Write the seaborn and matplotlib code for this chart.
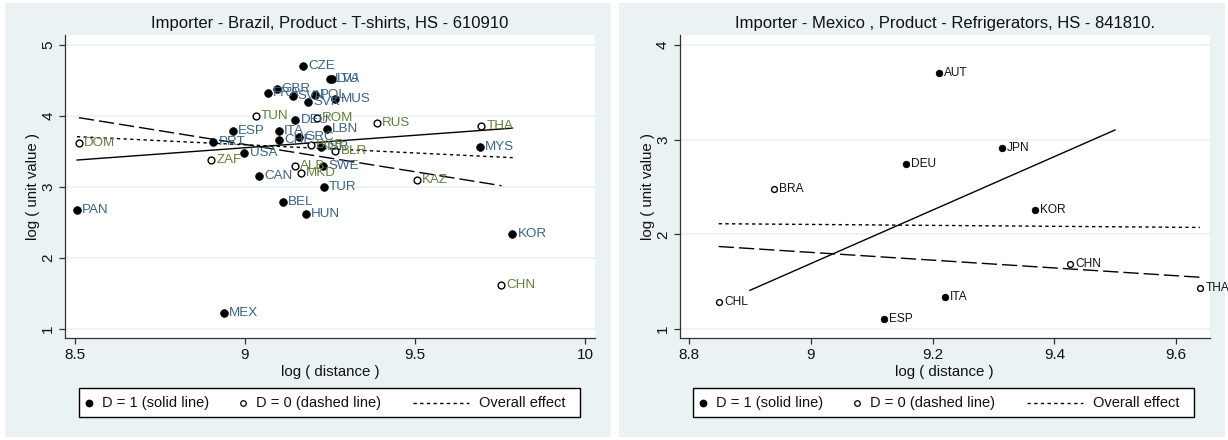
"""
Unit value vs distance scatter, two importers side by side.
"""

import matplotlib
matplotlib.use("Agg")

import matplotlib.pyplot as plt
from matplotlib.lines import Line2D
from matplotlib.patches import Rectangle
import numpy as np
import pandas as pd
import seaborn as sns

# -- data: Brazil / T-shirts -----------------------------------------
BR_NAMES = ["CZE", "LTU", "LVA", "GBR", "FRA", "SVN", "POL", "SVK", "MUS",
            "DEU", "LBN", "ITA", "ESP", "CHE", "GRC", "PRT", "USA", "CAN",
            "BEL", "HUN", "SWE", "TUR", "ISR", "MYS", "KOR", "PAN", "MEX",
            "TUN", "ROM", "RUS", "THA", "KAZ", "CHN", "DOM", "ZAF", "ALB",
            "MKD", "BGR", "BLR"]
BR_DIST = [9.171, 9.250, 9.256, 9.093, 9.068, 9.140, 9.206, 9.185, 9.265,
           9.148, 9.240, 9.099, 8.964, 9.101, 9.159, 8.907, 8.998, 9.042,
           9.111, 9.179, 9.230, 9.232, 9.225, 9.691, 9.786, 8.506, 8.938,
           9.032, 9.211, 9.387, 9.694, 9.506, 9.754, 8.512, 8.900, 9.147,
           9.164, 9.193, 9.265]
BR_UV = [4.704, 4.520, 4.520, 4.376, 4.324, 4.280, 4.296, 4.193, 4.239,
         3.944, 3.817, 3.793, 3.793, 3.662, 3.709, 3.629, 3.475, 3.159,
         2.785, 2.620, 3.296, 2.996, 3.568, 3.568, 2.338, 2.676, 1.230,
         3.996, 3.967, 3.897, 3.859, 3.103, 1.624, 3.615, 3.376, 3.296,
         3.201, 3.592, 3.507]
BR_D = [1] * 27 + [0] * 12

# fitted lines: value at log distance 9, slope, x range
BR_FIT_AT9 = [3.553, 3.600, 3.595]
BR_FIT_SLOPE = [0.351, -0.771, -0.231]
BR_FIT_X0 = [8.506, 8.512, 8.506]
BR_FIT_X1 = [9.787, 9.754, 9.787]

# -- data: Mexico / Refrigerators ------------------------------------
MX_NAMES = ["AUT", "JPN", "DEU", "KOR", "ITA", "ESP", "BRA", "CHN", "THA", "CHL"]
MX_DIST = [9.210, 9.314, 9.156, 9.368, 9.220, 9.120, 8.939, 9.426, 9.639, 8.849]
MX_UV = [3.708, 2.917, 2.742, 2.259, 1.339, 1.110, 2.478, 1.690, 1.429, 1.282]
MX_D = [1, 1, 1, 1, 1, 1, 0, 0, 0, 0]

MX_FIT_AT9 = [1.691, 1.810, 2.105]
MX_FIT_SLOPE = [2.825, -0.411, -0.0495]
MX_FIT_X0 = [8.900, 8.849, 8.849]
MX_FIT_X1 = [9.500, 9.639, 9.639]

LEGEND_LABELS = ["D = 1 (solid line)", "D = 0 (dashed line)", "Overall effect"]

# -- style -----------------------------------------------------------
W, H = 1228, 440
BG = "#eaf2f3"
BLUE = "#3b6488"
GREEN = "#62803a"
AXIS = "#333333"

sns.set_theme(style="white")
plt.rcParams["font.family"] = ["Liberation Sans", "DejaVu Sans"]
plt.rcParams["font.size"] = 10

LINE_STYLES = [
    dict(linestyle="-"),
    dict(linestyle=(0, (11, 3.6))),
    dict(linestyle=(0, (2.4, 2.4))),
]


def fx(x):
    return x / W


def fy(y):
    return 1 - y / H


def draw_panel(fig, left_px, names, dist, uv, dflag, at9, slope, x0, x1,
               title, xlim, ylim, xticks, yticks, colored, lab_size, msize):
    ax = fig.add_axes([fx(left_px), fy(338), 530 / W, 303 / H])
    ax.set_facecolor("white")
    df = pd.DataFrame({"name": names, "x": dist, "y": uv, "D": dflag})

    for yt in yticks:
        ax.axhline(yt, color=BG, linewidth=1.2, zorder=0)

    for i in range(3):
        xr = np.array([x0[i], x1[i]])
        ax.plot(xr, at9[i] + slope[i] * (xr - 9), color="black",
                linewidth=1.0, zorder=2, **LINE_STYLES[i])

    d1 = df[df["D"] == 1]
    d0 = df[df["D"] == 0]
    sns.scatterplot(data=d1, x="x", y="y", color="black", s=msize,
                    edgecolor="black", linewidth=0.6, ax=ax, zorder=3)
    sns.scatterplot(data=d0, x="x", y="y", color="white", s=msize * 0.8,
                    edgecolor="black", linewidth=1.0, ax=ax, zorder=3)

    for _, r in df.iterrows():
        if colored:
            col = BLUE if r["D"] == 1 else GREEN
        else:
            col = "#111111"
        ax.annotate(r["name"], (r["x"], r["y"]), xytext=(3.8, 0),
                    textcoords="offset points", ha="left", va="center",
                    fontsize=lab_size, color=col, zorder=4,
                    annotation_clip=False)

    ax.set_xlim(*xlim)
    ax.set_ylim(*ylim)
    ax.set_xticks(xticks)
    ax.set_xticklabels([f"{t:g}" for t in xticks])
    ax.set_yticks(yticks)
    ax.set_yticklabels([f"{t:g}" for t in yticks], rotation=90, va="center")
    ax.tick_params(axis="both", direction="out", length=4, width=0.9,
                   color=AXIS, labelsize=11, labelcolor="#111111", pad=3,
                   left=True, bottom=True)
    for side in ["top", "right"]:
        ax.spines[side].set_visible(False)
    for side in ["left", "bottom"]:
        ax.spines[side].set_color(AXIS)
        ax.spines[side].set_linewidth(0.9)

    ax.set_title(title, fontsize=12, pad=5, color="#111111")
    ax.set_xlabel("log ( distance )", fontsize=10.8, labelpad=2, color="#111111")
    ax.set_ylabel("log ( unit value )", fontsize=10.8, labelpad=1, color="#111111")
    return ax


def draw_legend(fig, off):
    fig.patches.append(Rectangle((fx(79.3 + off), fy(416.7)), (580 - 79.3) / W,
                                 (416.7 - 388.3) / H, transform=fig.transFigure,
                                 facecolor="white", edgecolor="black",
                                 linewidth=1.0, zorder=5))
    yc = fy(402.5)
    fig.lines.append(Line2D([fx(89 + off)], [yc], marker="o", markersize=4.6,
                            color="black", linestyle="none",
                            transform=fig.transFigure, zorder=6))
    fig.lines.append(Line2D([fx(243.3 + off)], [yc], marker="o", markersize=4.0,
                            markerfacecolor="white", markeredgecolor="black",
                            markeredgewidth=0.9, linestyle="none",
                            transform=fig.transFigure, zorder=6))
    fig.lines.append(Line2D([fx(413.3 + off), fx(469.3 + off)], [yc, yc],
                            color="black", linewidth=1.0,
                            transform=fig.transFigure, zorder=6,
                            **LINE_STYLES[2]))
    for xt, lab in zip([102.3, 255.7, 479.3], LEGEND_LABELS):
        fig.text(fx(xt + off), yc, lab, ha="left", va="center", fontsize=10.5,
                 color="#111111", zorder=6)


def main():
    fig = plt.figure(figsize=(W / 100, H / 100), dpi=100, facecolor="white")

    for lx in [5, 619]:
        fig.patches.append(Rectangle((fx(lx), fy(437)), 606 / W, 434 / H,
                                     transform=fig.transFigure, facecolor=BG,
                                     edgecolor="none", zorder=-10))

    draw_panel(fig, 65, BR_NAMES, BR_DIST, BR_UV, BR_D,
               BR_FIT_AT9, BR_FIT_SLOPE, BR_FIT_X0, BR_FIT_X1,
               "Importer - Brazil, Product - T-shirts, HS - 610910",
               (8.471, 10.029), (0.873, 5.141), [8.5, 9, 9.5, 10],
               [1, 2, 3, 4, 5], True, 9.6, 30)
    draw_panel(fig, 679.7, MX_NAMES, MX_DIST, MX_UV, MX_D,
               MX_FIT_AT9, MX_FIT_SLOPE, MX_FIT_X0, MX_FIT_X1,
               "Importer - Mexico , Product - Refrigerators, HS - 841810.",
               (8.785, 9.655), (0.906, 4.105), [8.8, 9, 9.2, 9.4, 9.6],
               [1, 2, 3, 4], False, 8.6, 22)

    draw_legend(fig, 0)
    draw_legend(fig, 614)

    fig.savefig("out.png", dpi=100, facecolor="white")
    plt.close(fig)


if __name__ == "__main__":
    main()
